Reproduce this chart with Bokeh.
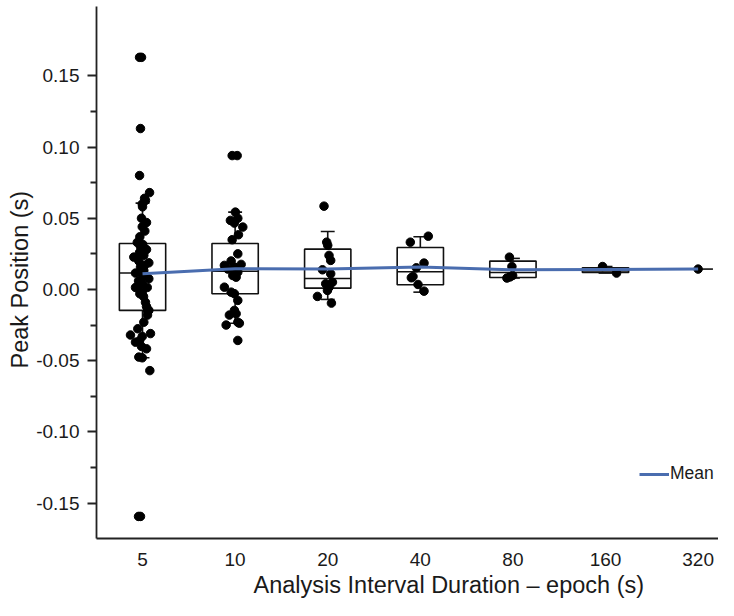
from bokeh.plotting import figure
from bokeh.models import (Range1d, FixedTicker, NumeralTickFormatter, Legend,
                          LegendItem, Title)
from bokeh.embed import file_html
from bokeh.resources import INLINE

FONT = "Liberation Sans"

# ---------------- data ----------------
categories = ["5", "10", "20", "40", "80", "160", "320"]

mean_values = [0.0110, 0.0145, 0.0143, 0.0157, 0.0138, 0.0140, 0.0143]

q1_values = [-0.0147, -0.0030, 0.0009, 0.0033, 0.0084, 0.0119, 0.0143]
median_values = [0.0115, 0.0128, 0.0077, 0.0124, 0.0119, 0.0130, 0.0143]
q3_values = [0.0323, 0.0323, 0.0283, 0.0295, 0.0199, 0.0152, 0.0143]
whisker_low = [-0.0480, -0.0237, -0.0070, -0.0019, 0.0080, 0.0115, 0.0143]
whisker_high = [0.0606, 0.0543, 0.0407, 0.0370, 0.0218, 0.0161, 0.0143]

points_5 = [0.163, 0.163, 0.113, 0.080, 0.068, 0.064, 0.0625, 0.060, 0.058,
            0.050, 0.047, 0.044, 0.041, 0.037, 0.033, 0.0316, 0.030, 0.028,
            0.026, 0.024, 0.0227, 0.020, 0.0187, 0.017, 0.0157, 0.0133,
            0.0115, 0.009, 0.0075, 0.006, 0.004, 0.004, 0.0016, 0.0014,
            0.0014, -0.002, -0.003, -0.005, -0.009, -0.012, -0.0147, -0.015,
            -0.018, -0.023, -0.0276, -0.031, -0.032, -0.033, -0.036, -0.037,
            -0.040, -0.0417, -0.0475, -0.048, -0.057, -0.1594, -0.1594]
jitter_5 = [-0.032, -0.011, -0.022, -0.032, 0.076, 0.022, 0.032, -0.003, 0.0,
            -0.011, 0.043, -0.003, 0.025, -0.029, -0.057, 0.003, -0.022, 0.043,
            -0.032, 0.014, -0.094, -0.040, 0.068, 0.022, -0.022, 0.014,
            -0.076, 0.0, 0.068, -0.043, -0.022, -0.003, -0.057, -0.076,
            0.051, -0.003, -0.029, 0.011, 0.032, 0.043, 0.068, 0.054,
            0.054, 0.014, -0.051, 0.086, -0.130, -0.003, -0.032, -0.076,
            -0.011, 0.043, -0.040, -0.003, 0.079, -0.043, -0.022]

points_10 = [0.094, 0.094, 0.0543, 0.050, 0.0485, 0.0466, 0.0438, 0.0384,
             0.0349, 0.025, 0.020, 0.0176, 0.0169, 0.0157, 0.0143, 0.0122,
             0.0098, 0.0086, 0.0016, -0.0019, -0.003, -0.0077, -0.0147,
             -0.017, -0.018, -0.023, -0.0237, -0.025, -0.0358]
jitter_10 = [-0.032, 0.022, 0.003, 0.029, -0.051, -0.008, 0.083, 0.036,
             -0.032, 0.029, -0.043, 0.065, -0.116, -0.008, -0.079, 0.029,
             -0.025, 0.011, -0.116, -0.043, -0.008, 0.029, -0.008,
             0.011, -0.062, 0.029, 0.046, -0.097, 0.029]

points_20 = [0.0585, 0.0332, 0.031, 0.0239, 0.0204, 0.0138, 0.011, 0.0051,
             0.004, 0.0016, -0.0007, -0.0049, -0.0096]
jitter_20 = [-0.040, -0.011, 0.0, 0.014, 0.032, -0.057, 0.032, 0.051,
             -0.022, 0.014, -0.003, -0.111, 0.040]

points_40 = [0.0374, 0.0332, 0.0185, 0.0152, 0.0091, 0.0082, 0.0035, -0.0012]
jitter_40 = [0.086, -0.108, 0.040, -0.043, -0.079, -0.097, -0.025, 0.040]

points_80 = [0.0227, 0.0161, 0.0098, 0.0088, 0.0080]
jitter_80 = [-0.038, -0.011, -0.003, -0.032, -0.065]

points_160 = [0.0161, 0.0115]
jitter_160 = [-0.032, 0.119]

points_320 = [0.0143]
jitter_320 = [0.0]

y_ticks = [-0.15, -0.10, -0.05, 0.0, 0.05, 0.10, 0.15]
y_minor_ticks = [-0.175, -0.125, -0.075, -0.025, 0.025, 0.075, 0.125]

x_title = "Analysis Interval Duration – epoch (s)"
y_title = "Peak Position (s)"

# ---------------- figure ----------------
p = figure(width=718, height=600, output_backend="svg", toolbar_location=None,
           x_range=Range1d(-0.497, 6.22), y_range=Range1d(-0.1749, 0.1987),
           min_border_left=96, min_border_right=0, min_border_top=6,
           min_border_bottom=62)
p.grid.visible = False
p.outline_line_color = None
p.background_fill_color = "white"

idx = list(range(len(categories)))
BOX_W = 0.5
CAP_W = 0.15
LINE = "#111111"

box_i = [i for i in idx if q3_values[i] > q1_values[i]]
p.vbar(x=box_i, width=BOX_W,
       top=[q3_values[i] for i in box_i], bottom=[q1_values[i] for i in box_i],
       fill_color="white", line_color=LINE, line_width=1.6)
p.segment(x0=[i - BOX_W / 2 for i in box_i], x1=[i + BOX_W / 2 for i in box_i],
          y0=[median_values[i] for i in box_i], y1=[median_values[i] for i in box_i],
          line_color=LINE, line_width=1.6)
# whiskers
p.segment(x0=box_i, x1=box_i,
          y0=[q3_values[i] for i in box_i], y1=[whisker_high[i] for i in box_i],
          line_color=LINE, line_width=1.6)
p.segment(x0=box_i, x1=box_i,
          y0=[q1_values[i] for i in box_i], y1=[whisker_low[i] for i in box_i],
          line_color=LINE, line_width=1.6)
p.segment(x0=[i - CAP_W / 2 for i in box_i], x1=[i + CAP_W / 2 for i in box_i],
          y0=[whisker_high[i] for i in box_i], y1=[whisker_high[i] for i in box_i],
          line_color=LINE, line_width=1.6)
p.segment(x0=[i - CAP_W / 2 for i in box_i], x1=[i + CAP_W / 2 for i in box_i],
          y0=[whisker_low[i] for i in box_i], y1=[whisker_low[i] for i in box_i],
          line_color=LINE, line_width=1.6)
# single-sample category: short stub
single_i = [i for i in idx if i not in box_i]
p.segment(x0=single_i, x1=[i + 0.16 for i in single_i],
          y0=[median_values[i] for i in single_i], y1=[median_values[i] for i in single_i],
          line_color=LINE, line_width=1.6)

# points
all_points = [points_5, points_10, points_20, points_40, points_80, points_160, points_320]
all_jitter = [jitter_5, jitter_10, jitter_20, jitter_40, jitter_80, jitter_160, jitter_320]
px, py = [], []
for i, (vals, jit) in enumerate(zip(all_points, all_jitter)):
    for v, j in zip(vals, jit):
        px.append(i + j)
        py.append(v)
p.scatter(px, py, size=8.5, fill_color="black", line_color="black")

# mean line
mean_r = p.line(idx, mean_values, line_width=3, line_color="#4A6DAF")

legend = Legend(items=[LegendItem(label="Mean", renderers=[mean_r])],
                location=(543, 54), glyph_width=30, glyph_height=20,
                padding=0, margin=0, label_standoff=1, spacing=0,
                label_text_font=FONT, label_text_font_size="17.5px",
                label_text_color="#1a1a1a",
                border_line_color=None, background_fill_alpha=0)
p.add_layout(legend)

# axes
for ax in (p.xaxis, p.yaxis):
    ax.axis_line_color = "#222222"
    ax.axis_line_width = 1.8
    ax.major_label_text_font = FONT
    ax.major_label_text_font_size = "19px"
    ax.major_label_text_color = "#1a1a1a"

p.xaxis.ticker = FixedTicker(ticks=idx)
p.xaxis.major_label_overrides = {i: c for i, c in enumerate(categories)}
p.xaxis.major_tick_line_color = None
p.xaxis.minor_tick_line_color = None
p.xaxis.major_label_standoff = 8

p.yaxis.ticker = FixedTicker(ticks=y_ticks, minor_ticks=y_minor_ticks)
p.yaxis.formatter = NumeralTickFormatter(format="0.00")
p.yaxis.major_tick_line_color = "#222222"
p.yaxis.minor_tick_line_color = "#222222"
p.yaxis.major_tick_line_width = 1.8
p.yaxis.minor_tick_line_width = 1.8
p.yaxis.major_tick_out = 9
p.yaxis.major_tick_in = 0
p.yaxis.minor_tick_out = 6
p.yaxis.minor_tick_in = 0
p.yaxis.major_label_standoff = 8

# axis titles, positioned off-centre like the original
p.add_layout(Title(text=x_title, align="left", offset=157, vertical_align="bottom",
                   standoff=2, text_font=FONT, text_font_size="23.5px",
                   text_font_style="normal", text_color="#1a1a1a"), "below")
p.add_layout(Title(text=y_title, align="left", offset=170, vertical_align="middle",
                   standoff=0, text_font=FONT, text_font_size="23.5px",
                   text_font_style="normal", text_color="#1a1a1a"), "left")

open("out.html", "w").write(file_html(p, INLINE))
